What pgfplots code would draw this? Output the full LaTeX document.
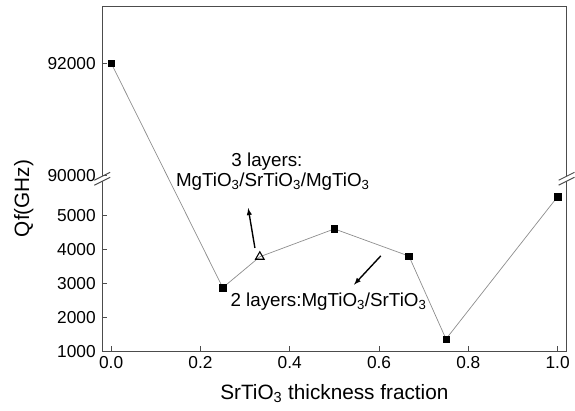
\documentclass[border=0pt]{standalone}
\usepackage{pgfplots}
\pgfplotsset{compat=1.18}
\usepackage{fontspec}
\setmainfont{Liberation Sans}
\begin{document}
\begin{tikzpicture}
\begin{axis}[
  scale only axis,
  width=468bp, height=347bp,
  xmin=-0.02, xmax=1.02,
  ymin=1000, ymax=93000,
  y coord trafo/.code={\begingroup\pgfkeys{/pgf/fpu=true,/pgf/fpu/output format=fixed}\pgfmathparse{#1>50000 ? 6175+(#1-90000)*1.652 : #1}\pgfmathsmuggle\pgfmathresult\endgroup},
  scaled y ticks=false,
  xtick={0,0.2,0.4,0.6,0.8,1.0},
  ytick={1000,2000,3000,4000,5000,90000,92000},
  yticklabels={1000,2000,3000,4000,5000,90000,92000},
  xticklabel style={yshift=-2bp, /pgf/number format/fixed, /pgf/number format/fixed zerofill, /pgf/number format/precision=1},
  yticklabel style={xshift=-3bp},
  /pgf/number format/assume math mode=true,
  tick pos=left,
  tick align=inside,
  major tick length=5bp,
  tick style={black!70, line width=0.9pt},
  axis line style={black!70, line width=1.1pt},
  ticklabel style={font=\fontsize{17.5}{20}\selectfont},
  label style={font=\fontsize{21}{24}\selectfont},
  xlabel={SrTiO\textsubscript{3} thickness fraction},
  ylabel={Qf(GHz)},
  xlabel style={at={(rel axis cs:0.5,0)}, anchor=base, yshift=-49bp},
  ylabel style={at={(rel axis cs:-0.169,0.444)}, anchor=center},
  clip=false,
]
\addplot[color=black!45, line width=0.7pt] coordinates {
  (0,92000) (0.25,2870) (0.333,3780) (0.5,4600) (0.667,3800) (0.75,1360) (1.0,5550)
};
\addplot[only marks, mark=square*, mark size=3.3bp, mark options={black}] coordinates {
  (0,92000) (0.25,2870) (0.5,4600) (0.667,3800) (0.75,1360) (1.0,5550)
};
\addplot[only marks, mark=triangle, mark size=5bp, mark options={black, fill=white, line width=1.1pt}]
  coordinates {(0.333,3780)};
% annotations
\draw[-latex, line width=1.4pt] (axis cs:0.322,4041) -- (axis cs:0.307,5211);
\draw[-latex, line width=1.4pt] (axis cs:0.604,3807) -- (axis cs:0.544,2959);
\node[anchor=base, font=\fontsize{19}{22}\selectfont] at (axis cs:0.349,6439) {3 layers:};
\node[anchor=base, font=\fontsize{19}{22}\selectfont] at (axis cs:0.362,5854) {MgTiO\textsubscript{3}/SrTiO\textsubscript{3}/MgTiO\textsubscript{3}};
\node[anchor=base west, inner sep=0pt, font=\fontsize{19}{22}\selectfont] at (axis cs:0.267,2316) {2 layers:MgTiO\textsubscript{3}/SrTiO\textsubscript{3}};
% axis breaks
\fill[white] ([xshift=-3bp,yshift=-2.5bp]rel axis cs:0,0.501) rectangle ([xshift=3bp,yshift=2.5bp]rel axis cs:0,0.501);
\draw[black!70, line width=1pt] ([xshift=-8bp,yshift=-6.5bp]rel axis cs:0,0.501) -- ([xshift=8bp,yshift=1.5bp]rel axis cs:0,0.501);
\draw[black!70, line width=1pt] ([xshift=-8bp,yshift=-1.5bp]rel axis cs:0,0.501) -- ([xshift=8bp,yshift=6.5bp]rel axis cs:0,0.501);
\fill[white] ([xshift=-3bp,yshift=-2.5bp]rel axis cs:1,0.501) rectangle ([xshift=3bp,yshift=2.5bp]rel axis cs:1,0.501);
\draw[black!70, line width=1pt] ([xshift=-8bp,yshift=-6.5bp]rel axis cs:1,0.501) -- ([xshift=8bp,yshift=1.5bp]rel axis cs:1,0.501);
\draw[black!70, line width=1pt] ([xshift=-8bp,yshift=-1.5bp]rel axis cs:1,0.501) -- ([xshift=8bp,yshift=6.5bp]rel axis cs:1,0.501);
\path ([xshift=-103bp,yshift=-60bp]rel axis cs:0,0) rectangle ([xshift=4bp,yshift=7bp]rel axis cs:1,1);
\end{axis}
\end{tikzpicture}
\end{document}
